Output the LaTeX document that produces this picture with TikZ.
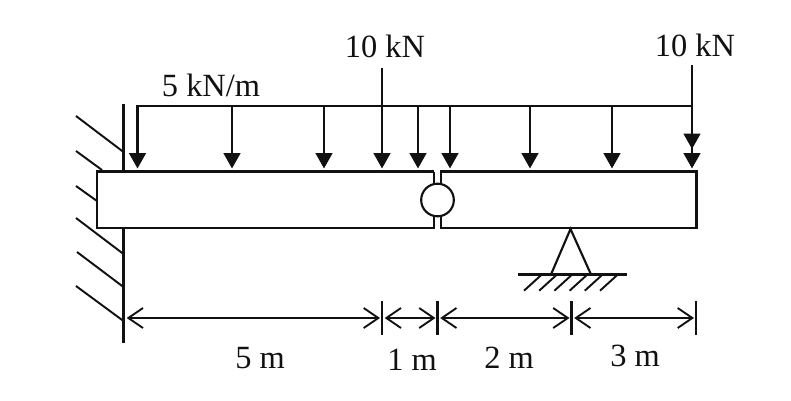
\documentclass[tikz,border=0pt]{standalone}
\usepackage{fontspec}
\setmainfont{Liberation Serif}
\usetikzlibrary{arrows.meta}
\definecolor{ink}{HTML}{111111}
\tikzset{
  px/.style={x=0.75pt,y=-0.75pt},
  line/.style={draw=ink,line width=1.6pt,line cap=butt},
  thin line/.style={draw=ink,line width=1.45pt},
  load/.style={line,-{Triangle[length=11.5pt,width=12.5pt,ink]}},
  open/.style={draw=ink,line width=1.4pt,{Straight Barb[length=11pt,width=15pt,line width=1.4pt]}-{Straight Barb[length=11pt,width=15pt,line width=1.4pt]}},
  label/.style={inner sep=0pt,font=\fontsize{24.3}{24.3}\selectfont,text=ink},
}
\begin{document}
\begin{tikzpicture}[px]
\useasboundingbox (0,0) rectangle (791,400);
% wall
\coordinate (w1) at (123.5,104); \coordinate (w2) at (123.5,171);
\coordinate (w3) at (123.5,228); \coordinate (w4) at (123.5,343);
\draw[line] (w1)--(w2) (w3)--(w4);
\foreach \a/\b/\c/\d in {76/116/123.5/152, 76/151/102/170, 76/186/97/201, 76/218/123.5/254, 77/252/123.5/287, 76/286/123.5/321}
  \draw[thin line] (\a,\b)--(\c,\d);
% beam
\draw[line] (434,171.5)--(97,171.5)--(97,228)--(434,228)--(434,213);
\draw[line] (434,171.5)--(434,188);
\draw[line] (441,188)--(441,171.5)--(696.5,171.5)--(696.5,228)--(441,228)--(441,213);
\node[circle,draw=ink,line width=1.6pt,minimum size=24.5pt,inner sep=0pt,fill=white] (hinge) at (437.5,200) {};
% distributed load
\coordinate (qa) at (136,106); \coordinate (qb) at (692,106);
\draw[line] (qa)--(qb);
\foreach \x in {137.5,232,324,418,450,530,612}
  \draw[load] (\x,106)--(\x,168.5);
% point loads
\draw[load] (382,68)--(382,168.5);
\draw[load] (692,65)--(692,149);
\draw[load] (692,106)--(692,168.5);
% support
\coordinate (sa) at (570.5,229); \coordinate (sl) at (551,274.5); \coordinate (sr) at (591,274.5);
\draw[line] (sl)--(sa)--(sr);
\draw[line] (518,274.5)--(627,274.5);
\foreach \i in {0,...,5}
  \draw[thin line] ({524+15.2*\i},290.7)--({540.7+15.2*\i},275.5);
% dimensions
\coordinate (d0) at (124,318); \coordinate (d1) at (382,318); \coordinate (d2) at (437.5,318);
\coordinate (d3) at (571.5,318); \coordinate (d4) at (696,318);
\draw[line] (382,301)--(382,335) (437.5,301)--(437.5,335) (571.5,301)--(571.5,335) (696,301)--(696,335);
\draw[open] ([xshift=2pt]d0)--([xshift=-1.5pt]d1);
\draw[open] ([xshift=2pt]d1)--([xshift=-1.5pt]d2);
\draw[open] ([xshift=2pt]d2)--([xshift=-1.5pt]d3);
\draw[open] ([xshift=2pt]d3)--([xshift=-1.5pt]d4);
% labels
\node[label] (t1) at (385,46.5) {10 kN};
\node[label] (t2) at (695,45) {10 kN};
\node[label] (t3) at (211,85.5) {5 kN/m};
\node[label] (t4) at (260,358) {5 m};
\node[label] (t5) at (412,360) {1 m};
\node[label] (t6) at (509,358) {2 m};
\node[label] (t7) at (635,356) {3 m};
\end{tikzpicture}
\end{document}
